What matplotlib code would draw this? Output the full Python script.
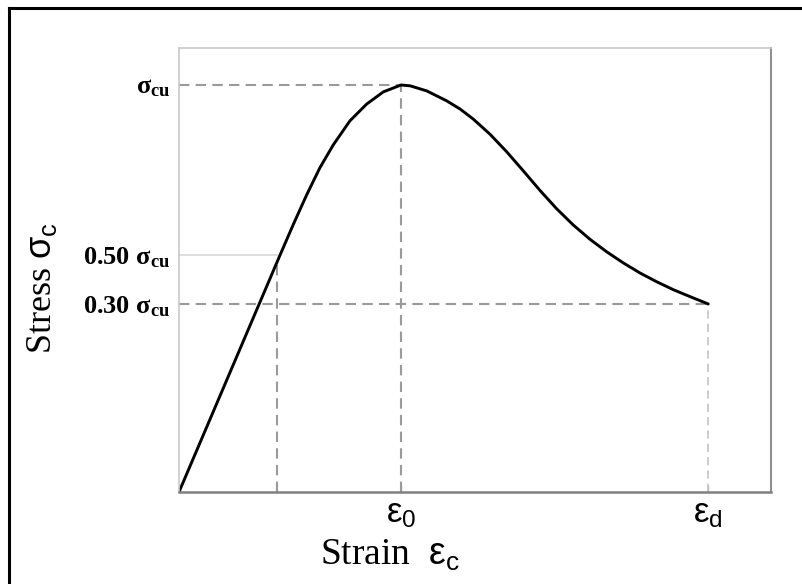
import matplotlib.pyplot as plt
from matplotlib.lines import Line2D

plt.rcParams['mathtext.fontset'] = 'custom'
plt.rcParams['mathtext.rm'] = 'Liberation Serif'
plt.rcParams['mathtext.sf'] = 'Liberation Sans'
plt.rcParams['mathtext.bf'] = 'Liberation Serif:bold'
plt.rcParams['mathtext.it'] = 'Liberation Serif:italic'

# stress-strain curve (strain / eps0, stress / sigma_cu)
strain = [0.0, 0.455, 0.515, 0.575, 0.635, 0.695, 0.770, 0.845, 0.920, 1.0,
          1.041, 1.116, 1.206, 1.266, 1.326, 1.401, 1.476, 1.551, 1.626,
          1.701, 1.776, 1.851, 1.927, 2.001, 2.077, 2.152, 2.227, 2.302, 2.384]
stress = [0.0, 0.582, 0.6575, 0.730, 0.797, 0.853, 0.912, 0.953, 0.983, 1.0,
          0.998, 0.9855, 0.961, 0.941, 0.916, 0.879, 0.836, 0.789, 0.741,
          0.696, 0.656, 0.621, 0.590, 0.563, 0.538, 0.5165, 0.497, 0.480,
          0.462]

eps_half = 0.441
eps_0 = 1.0
eps_d = 2.384
sig_peak = 1.0
sig_half = 0.582
sig_res = 0.461

x_ticks = [eps_0, eps_d]
x_labels = [r'$\mathsf{\varepsilon_0}$', r'$\mathsf{\varepsilon_d}$']
y_ticks = [sig_res, sig_half, sig_peak]
y_labels = [r'0.30 $\mathbf{\sigma_{cu}}$', r'0.50 $\mathbf{\sigma_{cu}}$',
            r'$\mathbf{\sigma_{cu}}$']

fig = plt.figure(figsize=(8.03, 5.84), dpi=100)
ax = fig.add_axes([179 / 803, 92 / 584, 592 / 803, 444 / 584])

dash = dict(color='#9a9a9a', lw=1.5, dashes=(5, 3))
ax.plot([0, eps_0], [sig_peak, sig_peak], **dash)
ax.plot([eps_0, eps_0], [0, sig_peak], **dash)
ax.plot([0, eps_d], [sig_res, sig_res], **dash)
ax.plot([eps_half, eps_half], [0, sig_half - 0.01], **dash)
ax.plot([eps_d, eps_d], [0, sig_res], color='#c4c4c4', lw=1.2, dashes=(5, 3))
ax.plot([0, eps_half], [sig_half, sig_half], color='#d8d8d8', lw=1.2)

ax.plot(strain, stress, color='black', lw=2.1, solid_capstyle='round',
        solid_joinstyle='round')

ax.set_xlim(0, 592 / 222)
ax.set_ylim(0, 444 / 407)

ax.set_xticks(x_ticks)
ax.set_xticklabels(x_labels, fontsize=25)
ax.set_yticks(y_ticks)
ax.set_yticklabels(y_labels, fontsize=19, fontweight='bold',
                   family='Liberation Serif')
ax.tick_params(axis='x', direction='in', length=5, width=1, color='#aaaaaa',
               pad=3)
ax.tick_params(axis='y', length=0, pad=6)

ax.spines['bottom'].set_color('#808080')
ax.spines['bottom'].set_linewidth(1.8)
ax.spines['right'].set_color('#909090')
ax.spines['right'].set_linewidth(1.5)
ax.spines['left'].set_color('#c8c8c8')
ax.spines['left'].set_linewidth(1.2)
ax.spines['top'].set_color('#c8c8c8')
ax.spines['top'].set_linewidth(1.2)

fig.text(42 / 803, 1 - 288 / 584, r'Stress $\mathsf{\sigma_c}$', rotation=90,
         ha='center', va='center', fontsize=26, family='Liberation Serif')
fig.text(390 / 803, 1 - 555 / 584, r'Strain  $\mathsf{\varepsilon_c}$',
         ha='center', va='center', fontsize=27, family='Liberation Serif')

# outer frame of the picture (left and top edges only)
fig.add_artist(Line2D([9 / 803, 9 / 803], [0, 1 - 8 / 584],
                      transform=fig.transFigure, color='black', lw=2.2))
fig.add_artist(Line2D([9 / 803, 1], [1 - 8 / 584, 1 - 8 / 584],
                      transform=fig.transFigure, color='black', lw=2.2))

fig.savefig('out.png', dpi=100)
